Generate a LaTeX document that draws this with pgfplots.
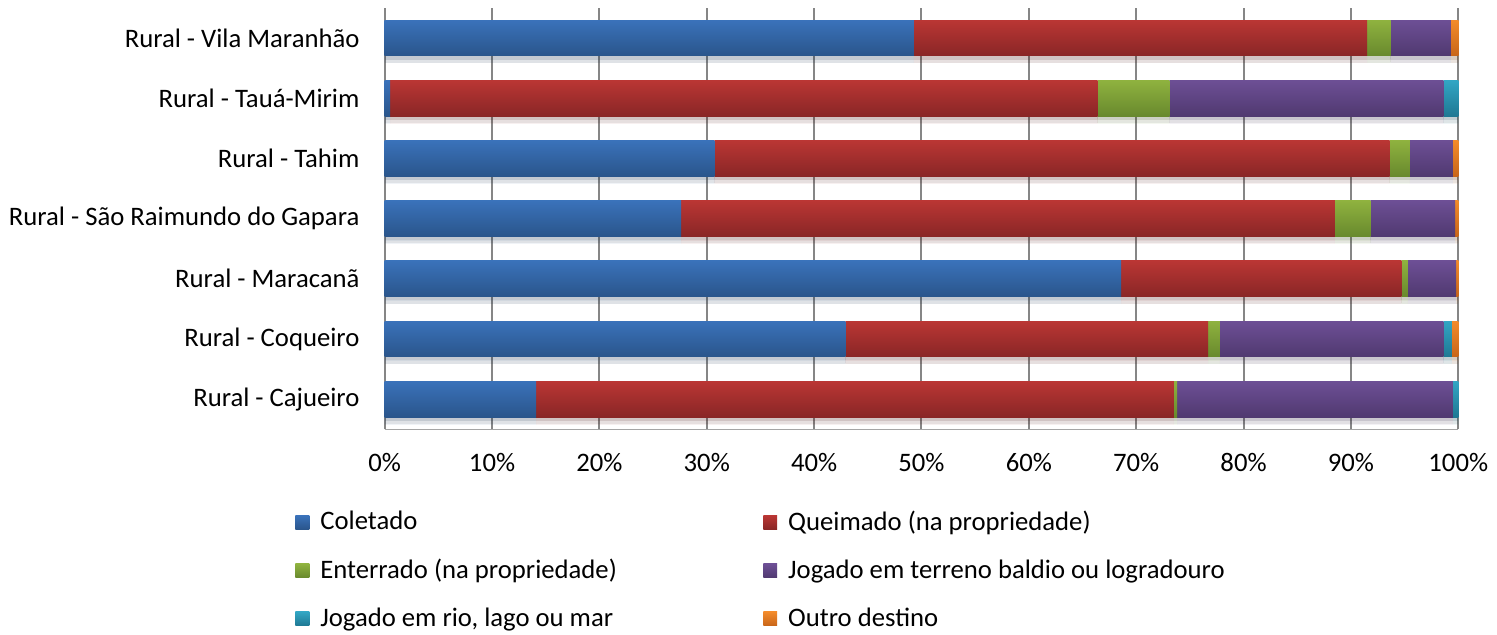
\documentclass[border=0pt]{standalone}
\usepackage{pgfplots}
\pgfplotsset{compat=1.18}
\usepackage{fontspec}
\setmainfont{Carlito}

\definecolor{bluetop}{HTML}{3A72BA}\definecolor{bluebot}{HTML}{2A558B}
\definecolor{redtop}{HTML}{BA3634}\definecolor{redbot}{HTML}{892626}
\definecolor{greentop}{HTML}{8FB23F}\definecolor{greenbot}{HTML}{68892D}
\definecolor{purptop}{HTML}{6D4F95}\definecolor{purpbot}{HTML}{503970}
\definecolor{tealtop}{HTML}{32A6C4}\definecolor{tealbot}{HTML}{1F7893}
\definecolor{orgtop}{HTML}{F38B2B}\definecolor{orgbot}{HTML}{C86519}

% one axis per row, so that every bar gets its own top-to-bottom shading
\pgfplotsset{
    rowbase/.style={scale only axis, width=539pt, height=211.5pt,
        xbar stacked, bar width=18pt,
        xmin=0, xmax=100, ymin=-0.5, ymax=6.5},
    shadow/.style={
        preaction={fill=black, opacity=0.07, draw=none, transform canvas={yshift=-3.5pt}},
        preaction={fill=black, opacity=0.07, draw=none, transform canvas={yshift=-1.8pt}}},
    cblue/.style={draw=none, top color=bluetop, bottom color=bluebot},
    cred/.style={draw=none, top color=redtop, bottom color=redbot},
    cgreen/.style={draw=none, top color=greentop, bottom color=greenbot},
    cpurp/.style={draw=none, top color=purptop, bottom color=purpbot},
    cteal/.style={draw=none, top color=tealtop, bottom color=tealbot},
    corg/.style={draw=none, top color=orgtop, bottom color=orgbot},
}
\newcommand{\fnt}{\fontsize{13.4}{16}\selectfont}

\begin{document}
\fnt
\begin{tikzpicture}
\begin{axis}[
    rowbase, name=main,
    xtick={0,10,...,100},
    xticklabel={\pgfmathprintnumber{\tick}\%},
    /pgf/number format/assume math mode=true,
    ytick={0,...,6},
    yticklabels={Rural - Cajueiro, Rural - Coqueiro, Rural - Maracanã,
                 Rural - São Raimundo do Gapara, Rural - Tahim,
                 Rural - Tauá-Mirim, Rural - Vila Maranhão},
    major tick length=0pt,
    tick label style={font=\fnt},
    y tick label style={xshift=-8pt},
    x tick label style={yshift=-7.5pt},
    axis x line*=bottom,
    axis y line*=left,
    x axis line style={-, draw={rgb,255:red,165;green,165;blue,165}, line width=0.6pt},
    y axis line style={-, draw={rgb,255:red,134;green,134;blue,134}, line width=1pt},
    xmajorgrids,
    major grid style={draw={rgb,255:red,134;green,134;blue,134}, line width=1pt},
    legend columns=2,
    legend style={at={(-0.0835,-0.183)}, anchor=north west, draw=none,
        inner sep=0pt, font=\fnt, row sep=8.5pt,
        /tikz/column 1/.style={column sep=3.5pt},
        /tikz/column 2/.style={column sep=71.5pt},
        /tikz/column 3/.style={column sep=3.5pt}},
    legend cell align=left,
    legend image code/.code={\path[draw=none, #1] (0pt,-3.5pt) rectangle (7pt,3.5pt);},
]
% Rural - Vila Maranhao (row 6); drawn again with shadow below, kept here for the legend
\addplot[cblue] coordinates {(49.3,6)};
\addlegendentry{Coletado}
\addplot[cred] coordinates {(42.2,6)};
\addlegendentry{Queimado (na propriedade)}
\addplot[cgreen] coordinates {(2.2,6)};
\addlegendentry{Enterrado (na propriedade)}
\addplot[cpurp] coordinates {(5.6,6)};
\addlegendentry{Jogado em terreno baldio ou logradouro}
\addplot[cteal] coordinates {(0,6)};
\addlegendentry{Jogado em rio, lago ou mar}
\addplot[corg] coordinates {(0.7,6)};
\addlegendentry{Outro destino}
\end{axis}

% Rural - Vila Maranhao
\begin{axis}[rowbase, hide axis, every axis plot/.append style={shadow}]
\addplot[cblue] coordinates {(49.3,6)};
\addplot[cred] coordinates {(42.2,6)};
\addplot[cgreen] coordinates {(2.2,6)};
\addplot[cpurp] coordinates {(5.6,6)};
\addplot[cteal] coordinates {(0,6)};
\addplot[corg] coordinates {(0.7,6)};
\end{axis}

% Rural - Taua-Mirim
\begin{axis}[rowbase, hide axis, every axis plot/.append style={shadow}]
\addplot[cblue] coordinates {(0.5,5)};
\addplot[cred] coordinates {(65.9,5)};
\addplot[cgreen] coordinates {(6.7,5)};
\addplot[cpurp] coordinates {(25.5,5)};
\addplot[cteal] coordinates {(1.4,5)};
\addplot[corg] coordinates {(0,5)};
\end{axis}

% Rural - Tahim
\begin{axis}[rowbase, hide axis, every axis plot/.append style={shadow}]
\addplot[cblue] coordinates {(30.7,4)};
\addplot[cred] coordinates {(62.9,4)};
\addplot[cgreen] coordinates {(1.9,4)};
\addplot[cpurp] coordinates {(4.0,4)};
\addplot[cteal] coordinates {(0,4)};
\addplot[corg] coordinates {(0.5,4)};
\end{axis}

% Rural - Sao Raimundo do Gapara
\begin{axis}[rowbase, hide axis, every axis plot/.append style={shadow}]
\addplot[cblue] coordinates {(27.6,3)};
\addplot[cred] coordinates {(60.9,3)};
\addplot[cgreen] coordinates {(3.3,3)};
\addplot[cpurp] coordinates {(7.9,3)};
\addplot[cteal] coordinates {(0,3)};
\addplot[corg] coordinates {(0.3,3)};
\end{axis}

% Rural - Maracana
\begin{axis}[rowbase, hide axis, every axis plot/.append style={shadow}]
\addplot[cblue] coordinates {(68.6,2)};
\addplot[cred] coordinates {(26.1,2)};
\addplot[cgreen] coordinates {(0.6,2)};
\addplot[cpurp] coordinates {(4.5,2)};
\addplot[cteal] coordinates {(0,2)};
\addplot[corg] coordinates {(0.2,2)};
\end{axis}

% Rural - Coqueiro
\begin{axis}[rowbase, hide axis, every axis plot/.append style={shadow}]
\addplot[cblue] coordinates {(42.9,1)};
\addplot[cred] coordinates {(33.8,1)};
\addplot[cgreen] coordinates {(1.1,1)};
\addplot[cpurp] coordinates {(20.8,1)};
\addplot[cteal] coordinates {(0.8,1)};
\addplot[corg] coordinates {(0.6,1)};
\end{axis}

% Rural - Cajueiro
\begin{axis}[rowbase, hide axis, every axis plot/.append style={shadow}]
\addplot[cblue] coordinates {(14.1,0)};
\addplot[cred] coordinates {(59.4,0)};
\addplot[cgreen] coordinates {(0.3,0)};
\addplot[cpurp] coordinates {(25.7,0)};
\addplot[cteal] coordinates {(0.5,0)};
\addplot[corg] coordinates {(0,0)};
\end{axis}

\path (main.north west) ++(-193pt,4pt) coordinate (bbA);
\path (main.south east) ++(16.5pt,-99.5pt) coordinate (bbB);
\end{tikzpicture}
\end{document}
